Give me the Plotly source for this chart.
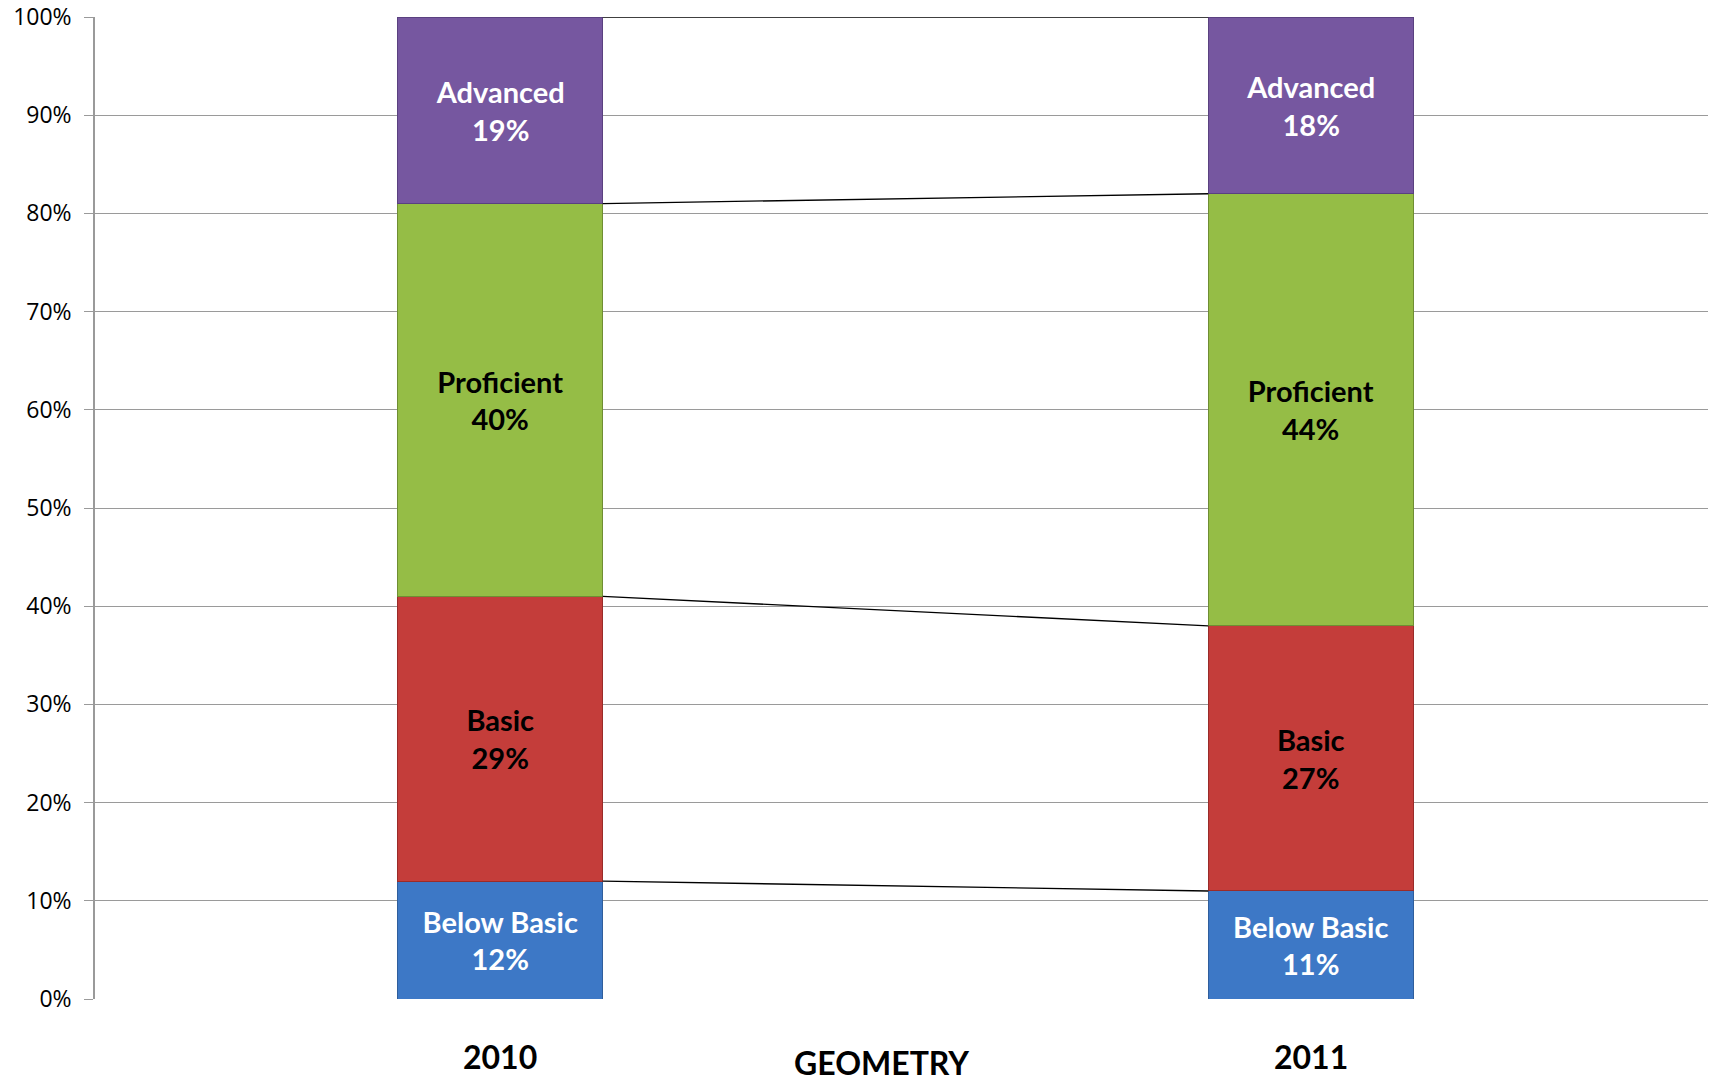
import numpy as np
import plotly.graph_objects as go

years = ["2010", "2011"]
levels = ["Below Basic", "Basic", "Proficient", "Advanced"]
shares = {
    "Below Basic": [12, 11],
    "Basic": [29, 27],
    "Proficient": [40, 44],
    "Advanced": [19, 18],
}
colors = {
    "Below Basic": "#3D78C6",
    "Basic": "#C43D3A",
    "Proficient": "#95BD46",
    "Advanced": "#7657A0",
}
edges = {
    "Below Basic": "#2F5E9C",
    "Basic": "#9A2B29",
    "Proficient": "#6F8E33",
    "Advanced": "#5A4180",
}
text_colors = {
    "Below Basic": "white",
    "Basic": "black",
    "Proficient": "black",
    "Advanced": "white",
}
y_ticks = list(range(0, 101, 10))
subject = "GEOMETRY"

FONT = "Lato, 'Open Sans', sans-serif"
BAR_W = 0.253
xpos = np.arange(len(years))

fig = go.Figure()

# series lines joining the segment boundaries of the two bars
cum = np.cumsum([shares[k] for k in levels], axis=0)
for row in cum:
    fig.add_trace(
        go.Scatter(
            x=[xpos[0] + BAR_W / 2, xpos[1] - BAR_W / 2],
            y=row,
            mode="lines",
            line=dict(color="black", width=1.3),
            showlegend=False,
            hoverinfo="skip",
        )
    )

for lvl in levels:
    fig.add_trace(
        go.Bar(
            x=xpos,
            y=shares[lvl],
            name=lvl,
            width=BAR_W,
            marker=dict(color=colors[lvl], line=dict(color=edges[lvl], width=1)),
            text=[f"{lvl}<br>{v}%" for v in shares[lvl]],
            textposition="inside",
            insidetextanchor="middle",
            textangle=0,
            textfont=dict(family=FONT, size=29, color=text_colors[lvl], weight="bold"),
            showlegend=False,
        )
    )

# page body adds an 8px margin, so the figure is sized to fit the window
fig.update_layout(
    width=1708,
    height=1075,
    barmode="stack",
    paper_bgcolor="white",
    plot_bgcolor="white",
    margin=dict(l=87, r=0, t=9, b=84),
    font=dict(family=FONT, color="black"),
)
fig.update_xaxes(
    range=[-0.5, 1.5],
    showticklabels=False,
    showgrid=False,
    zeroline=False,
    ticks="",
    automargin=False,
)
fig.update_yaxes(
    range=[0, 100],
    tickvals=y_ticks,
    ticktext=[f"{v}%" for v in y_ticks],
    tickfont=dict(family="'Open Sans', sans-serif", size=23, color="black"),
    gridcolor="#9A9A9A",
    gridwidth=1.3,
    showline=True,
    linecolor="#9A9A9A",
    linewidth=1.5,
    ticks="outside",
    ticklen=9,
    tickcolor="#9A9A9A",
    ticklabelstandoff=8,
    ticklabeloverflow="allow",
    zeroline=False,
    automargin=False,
)

for x, yr in zip(xpos, years):
    fig.add_annotation(
        x=x, y=-0.080, xref="x", yref="paper", text=yr, showarrow=False,
        font=dict(family=FONT, size=32, color="black", weight="bold"),
    )
fig.add_annotation(
    x=0.4855, y=-0.087, xref="paper", yref="paper", text=subject, showarrow=False,
    font=dict(family=FONT, size=32, color="black", weight="bold"),
)

fig.write_html("out.html")
